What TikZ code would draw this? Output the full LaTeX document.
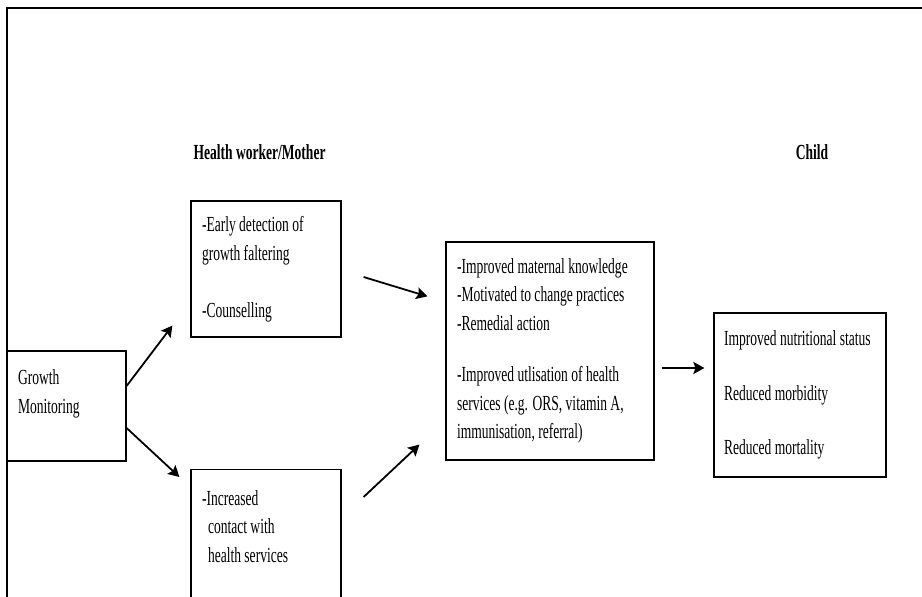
\documentclass[tikz,border=0pt]{standalone}
\usepackage{fontspec}
\setmainfont{Liberation Serif}[FakeStretch=0.63,WordSpace={1,0,0}]
\usetikzlibrary{arrows.meta,calc}

\begin{document}
\begin{tikzpicture}[x=1pt,y=-1pt,>={Stealth[length=11pt,width=12pt,inset=2pt]},
        txt/.style={font=\fontsize{21.5}{28.5}\selectfont},
        head/.style={font=\fontsize{21.5}{28.5}\selectfont\bfseries},
        box/.style={draw,line width=1.2pt,txt,align=flush left,inner xsep=11pt,inner ysep=0pt},
        flow/.style={->,line width=1.8pt}]

  \useasboundingbox (0,0) rectangle (922,597);
  \clip (0,0) rectangle (922,597);
  \draw[line width=1.4pt] (7,8) rectangle (960,640);

  \node[head,anchor=west] (hwlabel) at (190,152) {Health worker/Mother};
  \node[head] (childlabel) at (812,152) {Child};

  \node[box,text width=97pt,minimum height=110pt] (growth) at (66.5,406) {Growth\\Monitoring\\~};
  \node[box,text width=128pt,minimum height=136pt] (detect) at (266,269)
    {-Early detection of\\growth faltering\\[28.5pt]-Counselling};
  \node[box,text width=128pt,minimum height=170pt,anchor=north] (contact) at (266,469)
    {-Increased\\\hspace*{6pt}contact with\\\hspace*{6pt}health services\\~\\~};
  \node[box,text width=186pt,minimum height=218pt] (change) at (550,351)
    {-Improved maternal knowledge\\-Motivated to change practices\\-Remedial action\\[23pt]%
     -Improved utlisation of health\\services (e.g. ORS, vitamin A,\\immunisation, referral)};
  \node[box,text width=152pt,inner xsep=10pt,minimum height=164pt] (outcome) at (800,395)
    {Improved nutritional status\\[26pt]Reduced morbidity\\[26pt]Reduced mortality};

  \draw[flow] ($(growth.east)+(0,-20)$) -- ($(detect.south west)+(-18,-12)$);
  \draw[flow] ($(growth.east)+(0,22)$) -- ($(contact.north west)+(-11,8)$);
  \draw[flow] ($(detect.east)+(22,8)$) -- ($(change.north west)+(-18,55)$);
  \draw[flow] ($(contact.north east)+(22,28)$) -- ($(change.south west)+(-26,-16)$);
  \draw[flow] ($(change.east)+(7,17)$) -- ($(outcome.west)+(-9,-27)$);

\end{tikzpicture}
\end{document}
